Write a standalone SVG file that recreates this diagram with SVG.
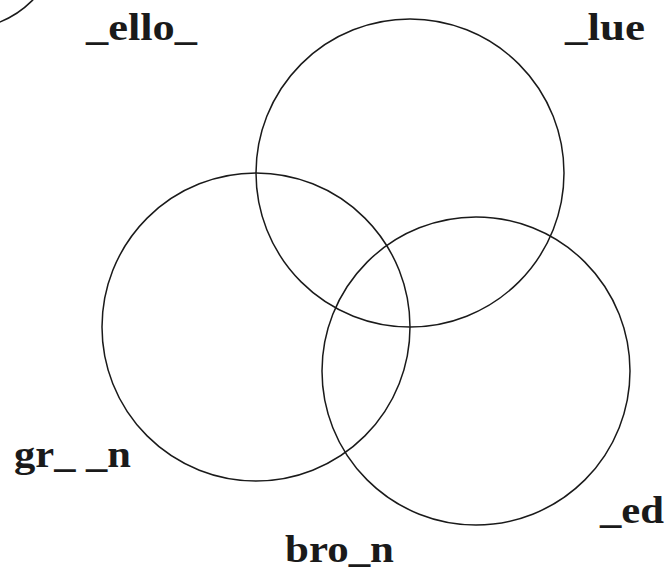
<svg xmlns="http://www.w3.org/2000/svg" width="672" height="576" viewBox="0 0 672 576">
<style>
.c{fill:none;stroke:#1a1a1a;stroke-width:1.5}
.t{font-family:"Liberation Serif","Times New Roman",serif;font-weight:bold;font-size:38px;fill:#1a1a1a}
</style>
<rect width="672" height="576" fill="#fff"/>
<g id="corner"><circle class="c" cx="-36" cy="-67" r="96"/></g>
<g id="blue"><circle class="c" cx="410" cy="173" r="154"/></g>
<g id="green"><circle class="c" cx="256" cy="327" r="154"/></g>
<g id="red"><circle class="c" cx="476" cy="371" r="154"/></g>
<g id="labels">
<text class="t" x="86" y="40" textLength="111" lengthAdjust="spacingAndGlyphs">_ello_</text>
<text class="t" x="565" y="40" textLength="80" lengthAdjust="spacingAndGlyphs">_lue</text>
<text class="t" x="14" y="467" textLength="117" lengthAdjust="spacingAndGlyphs">gr_ _n</text>
<text class="t" x="600" y="523" textLength="64" lengthAdjust="spacingAndGlyphs">_ed</text>
<text class="t" x="285" y="562" textLength="109" lengthAdjust="spacingAndGlyphs">bro_n</text>
</g>
</svg>
